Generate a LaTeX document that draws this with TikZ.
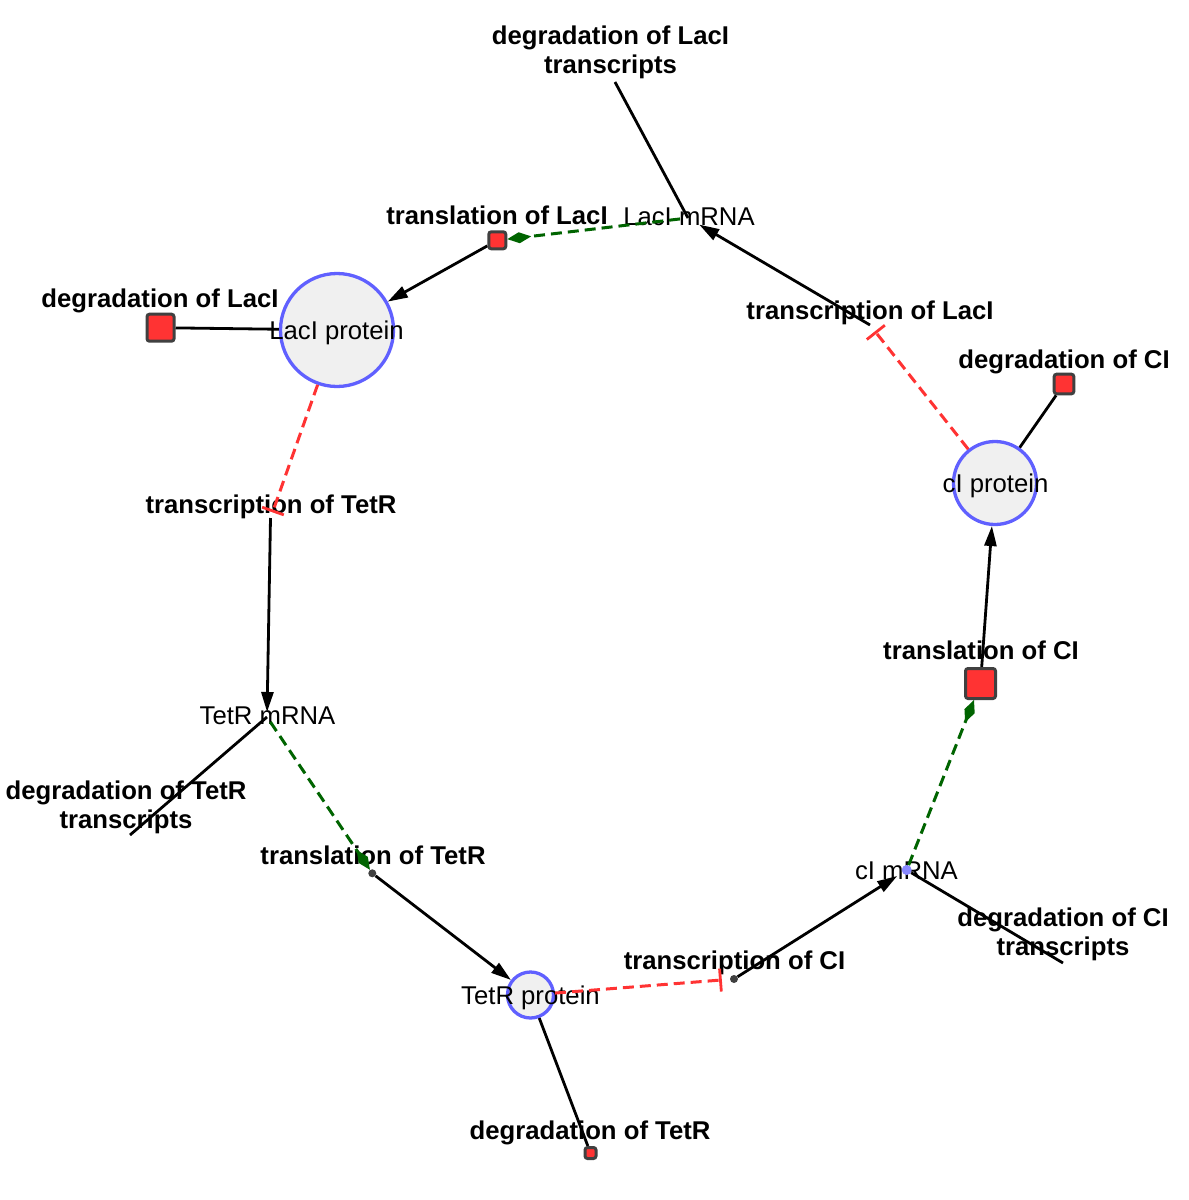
\documentclass[tikz,border=0pt]{standalone}
\usepackage{fontspec}
\setmainfont{Liberation Sans}
\newfontfamily\labfont{Liberation Sans}
\usetikzlibrary{arrows.meta}
\pgfdeclarelayer{bg}
\pgfdeclarelayer{mid}
\pgfsetlayers{bg,mid,main}
\definecolor{pred}{HTML}{FF3333}
\definecolor{pgreen}{HTML}{006400}
\definecolor{pblue}{HTML}{6060FF}
\definecolor{pfill}{HTML}{F0F0F0}
\definecolor{pgray}{HTML}{404040}
\tikzset{
  lab/.style={font=\labfont\fontsize{25.7}{29}\selectfont, inner sep=0pt, anchor=base},
  blab/.style={lab, font=\labfont\bfseries\fontsize{25.7}{29}\selectfont},
  mlab/.style={blab, align=center, anchor=north},
  protein/.style={circle, draw=pblue, fill=pfill, line width=3.3pt, inner sep=0pt},
  procsq/.style={rectangle, rounded corners=2.5pt, draw=pgray, fill=pred, line width=3pt, inner sep=0pt},
  procdot/.style={circle, fill=pgray, inner sep=0pt, minimum size=8pt},
  conn/.style={line width=2.8pt, black},
  prod/.style={conn, -{Triangle[length=20pt,width=12pt]}},
  inhib/.style={line width=3pt, pred, dash pattern=on 11pt off 6pt, -{Bar[width=23pt,line width=2.8pt]}},
  stim/.style={line width=3pt, pgreen, dash pattern=on 11pt off 6pt, -{Diamond[length=24pt,width=11pt]}},
}
\begin{document}
\begin{tikzpicture}[x=1pt,y=-1pt]
\useasboundingbox (0,0) rectangle (1189,1200);
\begin{pgfonlayer}{bg}
\fill[white] (0,0) rectangle (1189,1200);
% species
\node[protein, minimum size=113pt] (lacp) at (337,330) {};
\node[protein, minimum size=83pt] (cip) at (995,483) {};
\node[protein, minimum size=46pt] (tetp) at (530.5,995) {};
% labels
\node[mlab] (lDegLtx) at (610.5,25.5) {degradation of LacI\\transcripts};
\node[blab] (lTlL) at (497,224) {translation of LacI};
\node[lab] (lLacm) at (689,225) {LacI mRNA};
\node[blab] (lTrL) at (870,319) {transcription of LacI};
\node[blab] (lDegL) at (160,307) {degradation of LacI};
\node[lab] (lLacp) at (336.5,339) {LacI protein};
\node[blab] (lDegC) at (1064,368) {degradation of CI};
\node[lab] (lCip) at (995.5,492) {cI protein};
\node[blab] (lTrT) at (271,513) {transcription of TetR};
\node[blab] (lTlC) at (981,659.5) {translation of CI};
\node[lab] (lTetm) at (267.5,724) {TetR mRNA};
\node[mlab] (lDegTtx) at (126,780.5) {degradation of TetR\\transcripts};
\node[blab] (lTlT) at (373,864) {translation of TetR};
\node[lab] (lCim) at (906.5,879) {cI mRNA};
\node[mlab] (lDegCtx) at (1063,907.5) {degradation of CI\\transcripts};
\node[blab] (lTrC) at (734.5,969) {transcription of CI};
\node[lab] (lTetp) at (530.5,1004) {TetR protein};
\node[blab] (lDegT) at (590,1139) {degradation of TetR};
\end{pgfonlayer}
% processes
\node[procsq, minimum size=27pt] (degL) at (160.5,327.7) {};
\node[procsq, minimum size=17pt] (tlL) at (497.3,240.3) {};
\node[procsq, minimum size=19.7pt] (degC) at (1064,384) {};
\node[procsq, minimum size=30pt] (tlC) at (980.5,683.5) {};
\node[procsq, minimum size=11pt] (degT) at (590.5,1153) {};
\node[procdot] (tlT) at (372.3,873.3) {};
\node[procdot] (trC) at (734,979) {};
\node[circle, fill=pblue!75, inner sep=0pt, minimum size=10pt] (cim) at (906.7,870) {};
\coordinate (lacm) at (688,218);
\coordinate (tetm) at (267,717);
\coordinate (trL) at (870,325);
\coordinate (trT) at (270.5,518);
\coordinate (eLtx) at (615,82);
\coordinate (eTtx) at (130,835);
\coordinate (eCtx) at (1063,963);
\begin{pgfonlayer}{mid}
\draw[conn] (lacm) -- (eLtx);
\draw[prod, shorten >=13pt] (trL) -- (lacm);
\draw[stim, shorten <=8pt] (lacm) -- (tlL);
\draw[prod] (tlL) -- (lacp);
\draw[conn] (degL) -- (lacp);
\draw[inhib, shorten >=6pt] (lacp) -- (trT);
\draw[prod, shorten >=5pt] (trT) -- (tetm);
\draw[conn] (tetm) -- (eTtx);
\draw[stim, shorten <=6pt] (tetm) -- (tlT);
\draw[prod] (tlT) -- (tetp);
\draw[conn] (tetp) -- (degT);
\draw[inhib, shorten >=8pt] (tetp) -- (trC);
\draw[prod, shorten >=6pt] (trC) -- (cim);
\draw[conn] (cim) -- (eCtx);
\draw[stim] (cim) -- (tlC);
\draw[prod] (tlC) -- (cip);
\draw[conn] (cip) -- (degC);
\draw[inhib, shorten >=8pt] (cip) -- (trL);
\end{pgfonlayer}
\end{tikzpicture}
\end{document}
